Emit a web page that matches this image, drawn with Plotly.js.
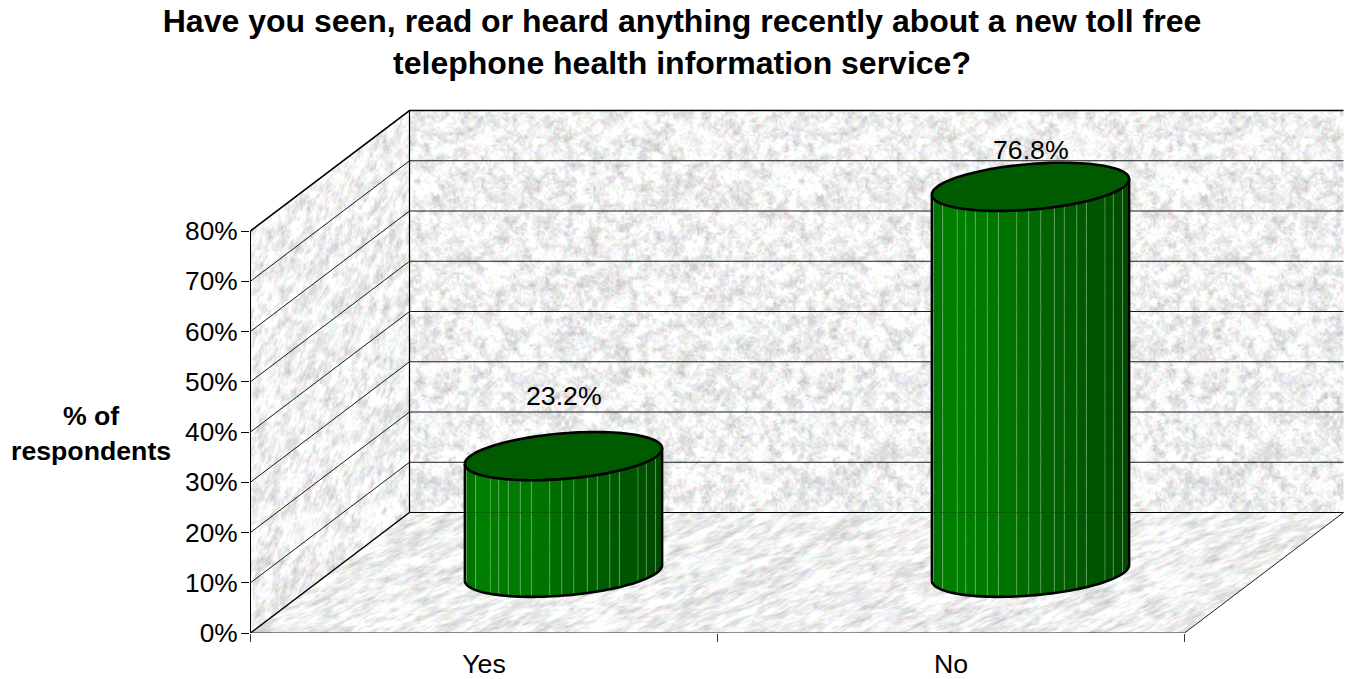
<!DOCTYPE html>
<html>
<head>
<meta charset="utf-8">
<title>Toll free telephone health information service</title>
<script src="https://cdn.plot.ly/plotly-3.0.1.min.js"></script>
<style>html,body{margin:0;padding:0;background:#fff}#chart{width:1347px;height:679px}</style>
</head>
<body>
<div id="chart"></div>
<script>
// Survey results
const categories = ['Yes', 'No'];
const shares = [23.2, 76.8];
const pctTicks = [0, 10, 20, 30, 40, 50, 60, 70, 80];
const pctLabels = ['0%', '10%', '20%', '30%', '40%', '50%', '60%', '70%', '80%'];
const titleText = 'Have you seen, read or heard anything recently about a new toll free<br>telephone health information service?';
const yTitleText = '% of<br>respondents';

// Oblique projection of the 3D box into axis units
const PLOT = {l: 250, t: 101, w: 1097, h: 532};
const UNIT_X = 467;             // pixels per category
const UNIT_Y = 5.025;           // pixels per percent
const xMin = -0.5 / UNIT_X;
const xMax = xMin + PLOT.w / UNIT_X;
const yMax = PLOT.h / UNIT_Y;
const DEPTH_X = 159 / UNIT_X;
const DEPTH_Y = 120.5 / UNIT_Y;
const TOP = pctTicks[pctTicks.length - 1];
const RADIUS_CAT = 0.2;
const RADIUS_DEPTH = 0.2;
const FONT = 'Liberation Sans, Arial, sans-serif';
const TEXT_SIZE = 26.7;

const project = (cat, depth, pct) => [cat + depth * DEPTH_X, pct + depth * DEPTH_Y];

// Seeded generator so the stone texture is the same on every load
let seed = 90210;
function rnd() { seed = (seed * 1664525 + 1013904223) >>> 0; return seed / 4294967296; }

function valueNoise(size, cell) {
  const n = Math.ceil(size / cell);
  const g = new Float32Array(n * n);
  for (let i = 0; i < g.length; i++) g[i] = rnd();
  const out = new Float32Array(size * size);
  for (let y = 0; y < size; y++) {
    for (let x = 0; x < size; x++) {
      const fx = x / cell, fy = y / cell;
      const ix = Math.floor(fx), iy = Math.floor(fy);
      const tx = fx - ix, ty = fy - iy;
      const a = g[iy % n * n + ix % n], b = g[iy % n * n + (ix + 1) % n];
      const c = g[(iy + 1) % n * n + ix % n], d = g[(iy + 1) % n * n + (ix + 1) % n];
      out[y * size + x] = (a * (1 - tx) + b * tx) * (1 - ty) + (c * (1 - tx) + d * tx) * ty;
    }
  }
  return out;
}

function stoneTile() {
  const size = 384;
  const cv = document.createElement('canvas');
  cv.width = cv.height = size;
  const ctx = cv.getContext('2d');
  const img = ctx.createImageData(size, size);
  const n1 = valueNoise(size, 8), n2 = valueNoise(size, 4), n3 = valueNoise(size, 2);
  const r = valueNoise(size, 2), g = valueNoise(size, 2), b = valueNoise(size, 2);
  for (let i = 0; i < size * size; i++) {
    const v = 0.42 * n1[i] + 0.33 * n2[i] + 0.25 * n3[i];
    const level = 240 + (v - 0.5) * 105;
    const j = i * 4;
    img.data[j] = level + (r[i] - 0.5) * 28;
    img.data[j + 1] = level + (g[i] - 0.5) * 28;
    img.data[j + 2] = level + (b[i] - 0.5) * 28;
    img.data[j + 3] = 255;
  }
  ctx.putImageData(img, 0, 0);
  return cv;
}

// Paints the three faces of the box on one canvas that spans the whole plot
function boxTexture() {
  const cv = document.createElement('canvas');
  cv.width = PLOT.w; cv.height = PLOT.h;
  const ctx = cv.getContext('2d');
  const tile = stoneTile();
  const toPx = p => [(p[0] - xMin) * UNIT_X, PLOT.h - p[1] * UNIT_Y];
  const face = (corners, matrix) => {
    ctx.save();
    ctx.beginPath();
    corners.map(toPx).forEach((p, i) => i ? ctx.lineTo(p[0], p[1]) : ctx.moveTo(p[0], p[1]));
    ctx.closePath();
    ctx.clip();
    ctx.setTransform(matrix[0], matrix[1], matrix[2], matrix[3], 0, 0);
    ctx.fillStyle = ctx.createPattern(tile, 'repeat');
    ctx.fillRect(-3000, -3000, 6000, 6000);
    ctx.restore();
  };
  face([project(0, 1, 0), project(0, 1, TOP), project(2, 1, TOP), project(2, 1, 0)], [1, 0, 0, 1]);
  face([project(0, 0, 0), project(0, 0, TOP), project(0, 1, TOP), project(0, 1, 0)], [0.8, -0.6, 0, 1.1]);
  face([project(0, 0, 0), project(2, 0, 0), project(2, 1, 0), project(0, 1, 0)], [1.9, -0.75, 0.1, 0.55]);
  return cv.toDataURL('image/png');
}

const traces = [];
function addLine(points, width, color) {
  traces.push({
    type: 'scatter', mode: 'lines', hoverinfo: 'skip', showlegend: false,
    x: points.map(p => p ? p[0] : null), y: points.map(p => p ? p[1] : null),
    line: {color: color, width: width, simplify: false}
  });
}
function addFill(points, color) {
  traces.push({
    type: 'scatter', mode: 'lines', hoverinfo: 'skip', showlegend: false,
    x: points.map(p => p[0]), y: points.map(p => p[1]),
    fill: 'toself', fillcolor: color, line: {width: 0, color: color}
  });
}

// Walls and floor: gridlines on the left and back walls, then the frame
const grid = [];
pctTicks.slice(1, -1).forEach(t => {
  grid.push(project(0, 0, t), project(0, 1, t), project(2, 1, t), null);
});
addLine(grid, 1, '#1c1c1c');
addLine([project(0, 0, TOP), project(0, 1, TOP), project(2, 1, TOP)], 1.6, '#000');
addLine([project(0, 0, 0), project(0, 0, TOP)], 1, '#000');
addLine([project(0, 1, 0), project(0, 1, TOP)], 1.2, '#000');
addLine([project(0, 1, 0), project(2, 1, 0)], 1, '#000');
addLine([project(0, 0, 0), project(0, 1, 0)], 1.5, '#000');
addLine([project(0, 0, 0), project(2, 0, 0), project(2, 1, 0)], 1, '#222');

// Cylinder shading
const seamAngles = [10, 27, 42, 49, 56, 64, 71, 82, 89, 96, 104, 110, 118, 124.5, 139, 147, 159];
const shadeStops = [[0, [0, 110, 0]], [0.1, [0, 128, 0]], [0.35, [0, 118, 0]], [0.6, [0, 98, 0]], [0.85, [0, 84, 0]], [1, [0, 72, 0]]];
function shade(t) {
  for (let i = 1; i < shadeStops.length; i++) {
    if (t <= shadeStops[i][0]) {
      const [t0, c0] = shadeStops[i - 1], [t1, c1] = shadeStops[i];
      const k = (t - t0) / (t1 - t0);
      return 'rgb(' + c0.map((c, j) => Math.round(c + (c1[j] - c) * k)).join(',') + ')';
    }
  }
  return 'rgb(0,72,0)';
}

const RIM_START = Math.atan2(RADIUS_DEPTH * DEPTH_X, RADIUS_CAT) + Math.PI;
function rim(center, pct, deg) {
  const th = RIM_START + deg * Math.PI / 180;
  return project(center + RADIUS_CAT * Math.cos(th), 0.5 + RADIUS_DEPTH * Math.sin(th), pct);
}
function arc(center, pct, from, to) {
  const pts = [];
  for (let d = from; d <= to + 1e-6; d += 3) pts.push(rim(center, pct, d));
  return pts;
}

categories.forEach((name, i) => {
  const center = i + 0.5;
  const value = shares[i];
  const edges = [0].concat(seamAngles, [180]);
  for (let s = 0; s < edges.length - 1; s++) {
    const a = edges[s], b = edges[s + 1];
    const mid = (a + b) / 2;
    const t = (1 - Math.cos(mid * Math.PI / 180)) / 2;
    const low = [];
    for (let k = 0; k <= 4; k++) low.push(rim(center, 0, a + (b - a) * k / 4));
    addFill([rim(center, value, a), rim(center, value, b)].concat(low.reverse()), shade(t));
  }
  const seams = [];
  seamAngles.forEach(d => { seams.push(rim(center, 0, d), rim(center, value, d), null); });
  addLine(seams, 1, 'rgba(150,205,150,0.42)');
  // back wall's floor line faintly showing through the shell
  addLine([rim(center, 0, 0).map((v, j) => j ? DEPTH_Y : v), rim(center, 0, 180).map((v, j) => j ? DEPTH_Y : v)], 1, 'rgba(0,40,0,0.25)');
  // cap and outline
  const cap = arc(center, value, 0, 360);
  addFill(cap, '#005a00');
  addLine(arc(center, 0, 0, 180), 2.6, '#000');
  addLine([rim(center, 0, 0), rim(center, value, 0)], 2.4, '#000');
  addLine([rim(center, 0, 180), rim(center, value, 180)], 2.4, '#000');
  addLine(cap, 2.6, '#000');
});

// Value labels sit above each cap
const labelLift = [60, 37];
const valueAnnotations = categories.map((name, i) => {
  const p = project(i + 0.5, 0.5, shares[i]);
  return {
    x: p[0], y: p[1], xref: 'x', yref: 'y', yshift: labelLift[i], showarrow: false,
    text: shares[i].toFixed(1) + '%', font: {family: FONT, size: TEXT_SIZE, color: '#000'}
  };
});

const layout = {
  width: 1347, height: 679,
  margin: {l: PLOT.l, r: 0, t: PLOT.t, b: 679 - PLOT.t - PLOT.h, pad: 0},
  paper_bgcolor: '#fff', plot_bgcolor: 'rgba(0,0,0,0)',
  showlegend: false,
  title: {
    text: titleText, x: 682 / 1347, xanchor: 'center', y: 0.9526, yanchor: 'top',
    font: {family: FONT, size: 32, color: '#000', weight: 'bold'}
  },
  xaxis: {
    range: [xMin, xMax], fixedrange: true, showgrid: false, zeroline: false, showline: false,
    tickmode: 'array', tickvals: categories.map((c, i) => i + 0.5), ticktext: categories,
    ticks: '', ticklabelstandoff: 12,
    tickfont: {family: FONT, size: TEXT_SIZE, color: '#000'},
    minor: {tickmode: 'array', tickvals: [0, 1, 2], ticks: 'outside', ticklen: 8, tickwidth: 1, tickcolor: '#333', showgrid: false}
  },
  yaxis: {
    range: [0, yMax], fixedrange: true, showgrid: false, zeroline: false, showline: false,
    tickmode: 'array', tickvals: pctTicks, ticktext: pctLabels,
    ticks: 'outside', ticklen: 8, tickwidth: 1, tickcolor: '#000', ticklabelstandoff: -2,
    tickfont: {family: FONT, size: 26.3, color: '#000'}
  },
  annotations: valueAnnotations.concat([{
    xref: 'paper', yref: 'paper', x: (90.5 - PLOT.l) / PLOT.w, y: (PLOT.t + PLOT.h - 433) / PLOT.h,
    xanchor: 'center', yanchor: 'middle', showarrow: false, align: 'center',
    text: '<b>' + yTitleText + '</b>', font: {family: FONT, size: TEXT_SIZE, color: '#000'}
  }]),
  images: [{
    source: boxTexture(), xref: 'x', yref: 'y', x: xMin, y: yMax, sizex: xMax - xMin, sizey: yMax,
    sizing: 'stretch', xanchor: 'left', yanchor: 'top', layer: 'below'
  }]
};

Plotly.newPlot('chart', traces, layout, {displayModeBar: false, staticPlot: true});
</script>
</body>
</html>
